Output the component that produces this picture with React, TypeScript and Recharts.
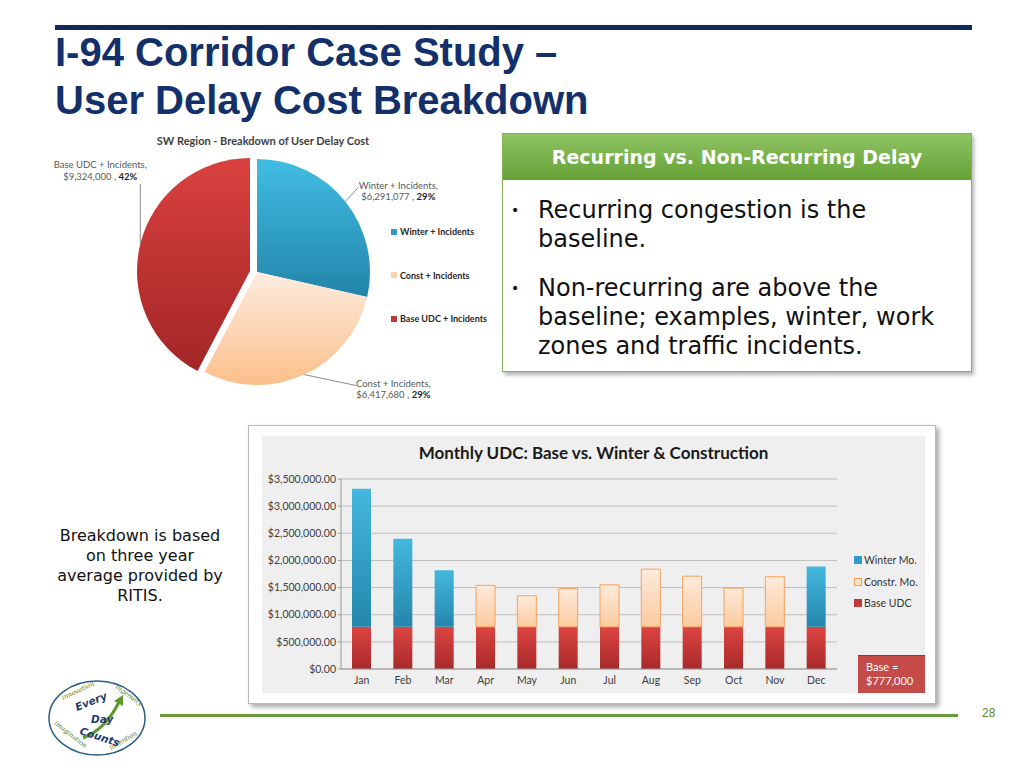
import React from 'react';
import { BarChart, Bar, XAxis, YAxis, CartesianGrid, PieChart, Pie, Cell } from 'recharts';

// monthly user delay cost (stacked)
const months = ['Jan', 'Feb', 'Mar', 'Apr', 'May', 'Jun', 'Jul', 'Aug', 'Sep', 'Oct', 'Nov', 'Dec'];
const baseUdc = [777000, 777000, 777000, 777000, 777000, 777000, 777000, 777000, 777000, 777000, 777000, 777000];
const winterMo = [2543000, 1623000, 1043000, null, null, null, null, null, null, null, null, 1113000];
const constrMo = [null, null, null, 763000, 573000, 703000, 773000, 1063000, 933000, 713000, 923000, null];
const yTicks = [0, 500000, 1000000, 1500000, 2000000, 2500000, 3000000, 3500000];

// SW region breakdown
const pieNames = ['Winter + Incidents', 'Const + Incidents', 'Base UDC + Incidents'];
const pieValues = [6291077, 6417680, 9324000];

const barLegend = [
  { name: 'Winter Mo.', color: '#2e9cc4', border: '#2e9cc4' },
  { name: 'Constr. Mo.', color: '#fde1c6', border: '#f5a05a' },
  { name: 'Base UDC', color: '#c0393a', border: '#c0393a' },
];
const pieColors = ['#2e9cc4', '#fcd0a8', '#c0393a'];

const noteLines = ['Breakdown is based', 'on three year', 'average provided by', 'RITIS.'];

const barData = months.map((m, i) => ({ month: m, base: baseUdc[i], winter: winterMo[i], constr: constrMo[i] }));
const pieData = pieNames.map((n, i) => ({ name: n, value: pieValues[i] }));

const calibri = 'Lato, "Liberation Sans", sans-serif';
const RAD = Math.PI / 180;
const labelOffsets = [
  { ex: 13, ey: -14, tx: 40, ty: -2 },
  { ex: 52, ey: 11, tx: 37, ty: -2 },
  { ex: 0, ey: -60, tx: -40, ty: -19 },
];

const money = (v: number) =>
  '$' + v.toLocaleString('en-US', { minimumFractionDigits: 2, maximumFractionDigits: 2 });

const renderPieLabel = (props: any) => {
  const { cx, cy, midAngle, outerRadius, index, value, percent } = props;
  const o = labelOffsets[index];
  const x0 = cx + outerRadius * Math.cos(-midAngle * RAD);
  const y0 = cy + outerRadius * Math.sin(-midAngle * RAD);
  const x1 = x0 + o.ex;
  const y1 = y0 + o.ey;
  const tx = x1 + o.tx;
  const ty = y1 + o.ty;
  return (
    <g>
      <line x1={x0} y1={y0} x2={x1} y2={y1} stroke="#8c8c8c" strokeWidth={1} />
      <text x={tx} y={ty} textAnchor="middle" fontSize={9.5} fill="#595959" fontFamily={calibri}>
        <tspan x={tx} dy="0.35em">{pieNames[index]},</tspan>
        <tspan x={tx} dy="1.2em">
          {'$' + value.toLocaleString('en-US') + ' , '}
          <tspan fontWeight="bold" fill="#262626">{Math.round(percent * 100)}%</tspan>
        </tspan>
      </text>
    </g>
  );
};

const Logo = () => (
  <svg width={104} height={84} style={{ position: 'absolute', left: 45, top: 676 }}>
    <ellipse cx={52} cy={42} rx={48} ry={37} fill="#fff" stroke="#2b5d86" strokeWidth={1.5} />
    <g fontFamily='"DejaVu Serif", serif' fontStyle="italic" fontSize={6.5} fill="#4c7a2c">
      <text x={18} y={24} transform="rotate(-25 18 24)">innovation</text>
      <text x={70} y={12} transform="rotate(35 70 12)">ingenuity</text>
      <text x={9} y={48} transform="rotate(38 9 48)">imagination</text>
      <text x={66} y={74} transform="rotate(-30 66 74)">invention</text>
    </g>
    <path d="M38 62 Q60 54 74 26" stroke="#5c9a2e" strokeWidth={3} fill="none" />
    <path d="M69 25 L78 19 L78 30 Z" fill="#5c9a2e" />
    <g fontFamily='"DejaVu Sans", sans-serif' fontWeight="bold" fontStyle="italic" fill="#1f3e6e">
      <text x={32} y={35} fontSize={10.5} transform="rotate(-22 32 35)">Every</text>
      <text x={46} y={47} fontSize={10.5}>Day</text>
      <text x={34} y={58} fontSize={10.5} transform="rotate(18 34 58)">Counts</text>
    </g>
  </svg>
);

export default function App() {
  return (
    <div style={{ position: 'absolute', left: 0, top: 0, width: 1024, height: 768, background: '#fff', overflow: 'hidden' }}>
      {/* header rule + title */}
      <div style={{ position: 'absolute', left: 55, top: 25, width: 917, height: 5, background: '#102a5c' }} />
      <div
        style={{
          position: 'absolute', left: 55, top: 28, fontFamily: '"Liberation Sans", Arial, sans-serif',
          fontWeight: 'bold', fontSize: 40, lineHeight: '48px', color: '#13306a', whiteSpace: 'nowrap',
        }}
      >
        <div>I-94 Corridor Case Study –</div>
        <div>User Delay Cost Breakdown</div>
      </div>

      {/* pie chart */}
      <div style={{ position: 'absolute', left: 40, top: 130, width: 460, height: 280 }}>
        <div
          style={{
            position: 'absolute', left: 0, top: 4, width: 446, textAlign: 'center', fontFamily: calibri,
            fontWeight: 'bold', fontSize: 11, color: '#404040',
          }}
        >
          SW Region - Breakdown of User Delay Cost
        </div>
        <PieChart width={460} height={280}>
          <defs>
            <linearGradient id="pW" x1="0" y1="0" x2="0" y2="1">
              <stop offset="0%" stopColor="#42bde2" />
              <stop offset="100%" stopColor="#2284aa" />
            </linearGradient>
            <linearGradient id="pC" x1="0" y1="0" x2="0" y2="1">
              <stop offset="0%" stopColor="#fdece0" />
              <stop offset="100%" stopColor="#fbbf8a" />
            </linearGradient>
            <linearGradient id="pB" x1="0" y1="0" x2="0" y2="1">
              <stop offset="0%" stopColor="#d9413e" />
              <stop offset="100%" stopColor="#a32627" />
            </linearGradient>
          </defs>
          <Pie
            data={pieData}
            dataKey="value"
            cx={212}
            cy={137}
            outerRadius={113}
            startAngle={90}
            endAngle={-270}
            stroke="none"
            labelLine={false}
            label={(p: any) => (p.index === 2 ? null : renderPieLabel(p))}
            isAnimationActive={false}
          >
            <Cell fill="url(#pW)" />
            <Cell fill="url(#pC)" />
            <Cell fill="none" />
          </Pie>
          <Pie
            data={pieData}
            dataKey="value"
            cx={205}
            cy={136}
            outerRadius={113}
            startAngle={90}
            endAngle={-270}
            stroke="none"
            labelLine={false}
            label={(p: any) => (p.index === 2 ? renderPieLabel(p) : null)}
            isAnimationActive={false}
          >
            <Cell fill="none" />
            <Cell fill="none" />
            <Cell fill="url(#pB)" />
          </Pie>
        </PieChart>
        {pieNames.map((n, i) => (
          <div
            key={n}
            style={{
              position: 'absolute', left: 351, top: 96 + i * 43.5, display: 'flex', alignItems: 'center',
              fontFamily: calibri, fontWeight: 'bold', fontSize: 9, color: '#262626', whiteSpace: 'nowrap',
            }}
          >
            <span style={{ display: 'inline-block', width: 6, height: 6, background: pieColors[i], marginRight: 3 }} />
            {n}
          </div>
        ))}
      </div>

      {/* green callout */}
      <div
        style={{
          position: 'absolute', left: 502, top: 133, width: 468, height: 237, background: '#fff',
          border: '1px solid #86b25c', boxShadow: '2px 3px 4px rgba(0,0,0,0.3)',
        }}
      >
        <div
          style={{
            height: 46, background: 'linear-gradient(#8fc464, #64a035)', color: '#fff', textAlign: 'center',
            fontFamily: '"DejaVu Sans", sans-serif', fontWeight: 'bold', fontSize: 19, lineHeight: '46px',
          }}
        >
          Recurring vs. Non-Recurring Delay
        </div>
        <div style={{ fontFamily: '"DejaVu Sans", sans-serif', fontSize: 24, lineHeight: '29px', color: '#111' }}>
          <div style={{ position: 'absolute', left: 35, top: 62, width: 420 }}>
            <span style={{ position: 'absolute', left: -27, fontSize: 14 }}>•</span>
            Recurring congestion is the baseline.
          </div>
          <div style={{ position: 'absolute', left: 35, top: 140, width: 420 }}>
            <span style={{ position: 'absolute', left: -27, fontSize: 14 }}>•</span>
            Non-recurring are above the baseline; examples, winter, work zones and traffic incidents.
          </div>
        </div>
      </div>

      {/* side note */}
      <div
        style={{
          position: 'absolute', left: 30, top: 526, width: 220, textAlign: 'center',
          fontFamily: '"DejaVu Sans", sans-serif', fontSize: 16, lineHeight: '20px', color: '#111',
        }}
      >
        {noteLines.map((l) => (
          <div key={l}>{l}</div>
        ))}
      </div>

      {/* bar chart frame */}
      <div
        style={{
          position: 'absolute', left: 248, top: 425, width: 686, height: 277, background: '#fff',
          border: '1px solid #b8b8b8', boxShadow: '3px 3px 5px rgba(0,0,0,0.35)',
        }}
      />
      <div style={{ position: 'absolute', left: 262, top: 436, width: 663, height: 257, background: '#efefef' }}>
        <div
          style={{
            position: 'absolute', left: 0, top: 6, width: 663, textAlign: 'center', fontFamily: calibri,
            fontWeight: 'bold', fontSize: 17, color: '#1a1a1a',
          }}
        >
          Monthly UDC: Base vs. Winter &amp; Construction
        </div>
        <BarChart width={663} height={257} data={barData} margin={{ top: 43, right: 88, bottom: 4, left: 0 }} barSize={19}>
          <defs>
            <linearGradient id="gW" x1="0" y1="0" x2="0" y2="1">
              <stop offset="0%" stopColor="#43b8de" />
              <stop offset="100%" stopColor="#2486ac" />
            </linearGradient>
            <linearGradient id="gC" x1="0" y1="0" x2="0" y2="1">
              <stop offset="0%" stopColor="#fdeadb" />
              <stop offset="100%" stopColor="#fbcb9e" />
            </linearGradient>
            <linearGradient id="gB" x1="0" y1="0" x2="0" y2="1">
              <stop offset="0%" stopColor="#dc4441" />
              <stop offset="100%" stopColor="#a82a2a" />
            </linearGradient>
          </defs>
          <CartesianGrid vertical={false} stroke="#bdbdbd" />
          <XAxis
            dataKey="month"
            height={20}
            tickLine={false}
            axisLine={{ stroke: '#9a9a9a' }}
            tick={{ fontSize: 10.5, fill: '#404040', fontFamily: calibri }}
          />
          <YAxis
            width={79}
            domain={[0, 3500000]}
            ticks={yTicks}
            interval={0}
            tickFormatter={money}
            tickSize={3}
            axisLine={{ stroke: '#9a9a9a' }}
            tickLine={{ stroke: '#9a9a9a' }}
            tick={{ fontSize: 10.5, fill: '#404040', fontFamily: calibri }}
          />
          <Bar dataKey="base" stackId="a" fill="url(#gB)" isAnimationActive={false} />
          <Bar dataKey="winter" stackId="a" fill="url(#gW)" isAnimationActive={false} />
          <Bar dataKey="constr" stackId="a" fill="url(#gC)" stroke="#f3a25f" strokeWidth={1} isAnimationActive={false} />
        </BarChart>
        {barLegend.map((l, i) => (
          <div
            key={l.name}
            style={{
              position: 'absolute', left: 592, top: 118 + i * 21.5, display: 'flex', alignItems: 'center',
              fontFamily: calibri, fontSize: 10.5, color: '#333', whiteSpace: 'nowrap',
            }}
          >
            <span
              style={{
                display: 'inline-block', width: 6, height: 6, background: l.color, border: `1px solid ${l.border}`,
                marginRight: 2,
              }}
            />
            {l.name}
          </div>
        ))}
        <div
          style={{
            position: 'absolute', left: 596, top: 220, width: 67, height: 37, background: '#c44b48',
            boxShadow: '0 -1px 0 #a03030', color: '#fff', fontFamily: calibri, fontSize: 11, lineHeight: '14px',
            padding: '4px 0 0 8px', boxSizing: 'border-box',
          }}
        >
          Base =<br />$777,000
        </div>
      </div>

      {/* footer */}
      <div style={{ position: 'absolute', left: 160, top: 714, width: 798, height: 3, background: '#6a9a3a' }} />
      <div
        style={{
          position: 'absolute', left: 982, top: 706, fontFamily: '"Liberation Sans", Arial, sans-serif',
          fontSize: 12, color: '#5c8a2e',
        }}
      >
        28
      </div>
      <Logo />
    </div>
  );
}
